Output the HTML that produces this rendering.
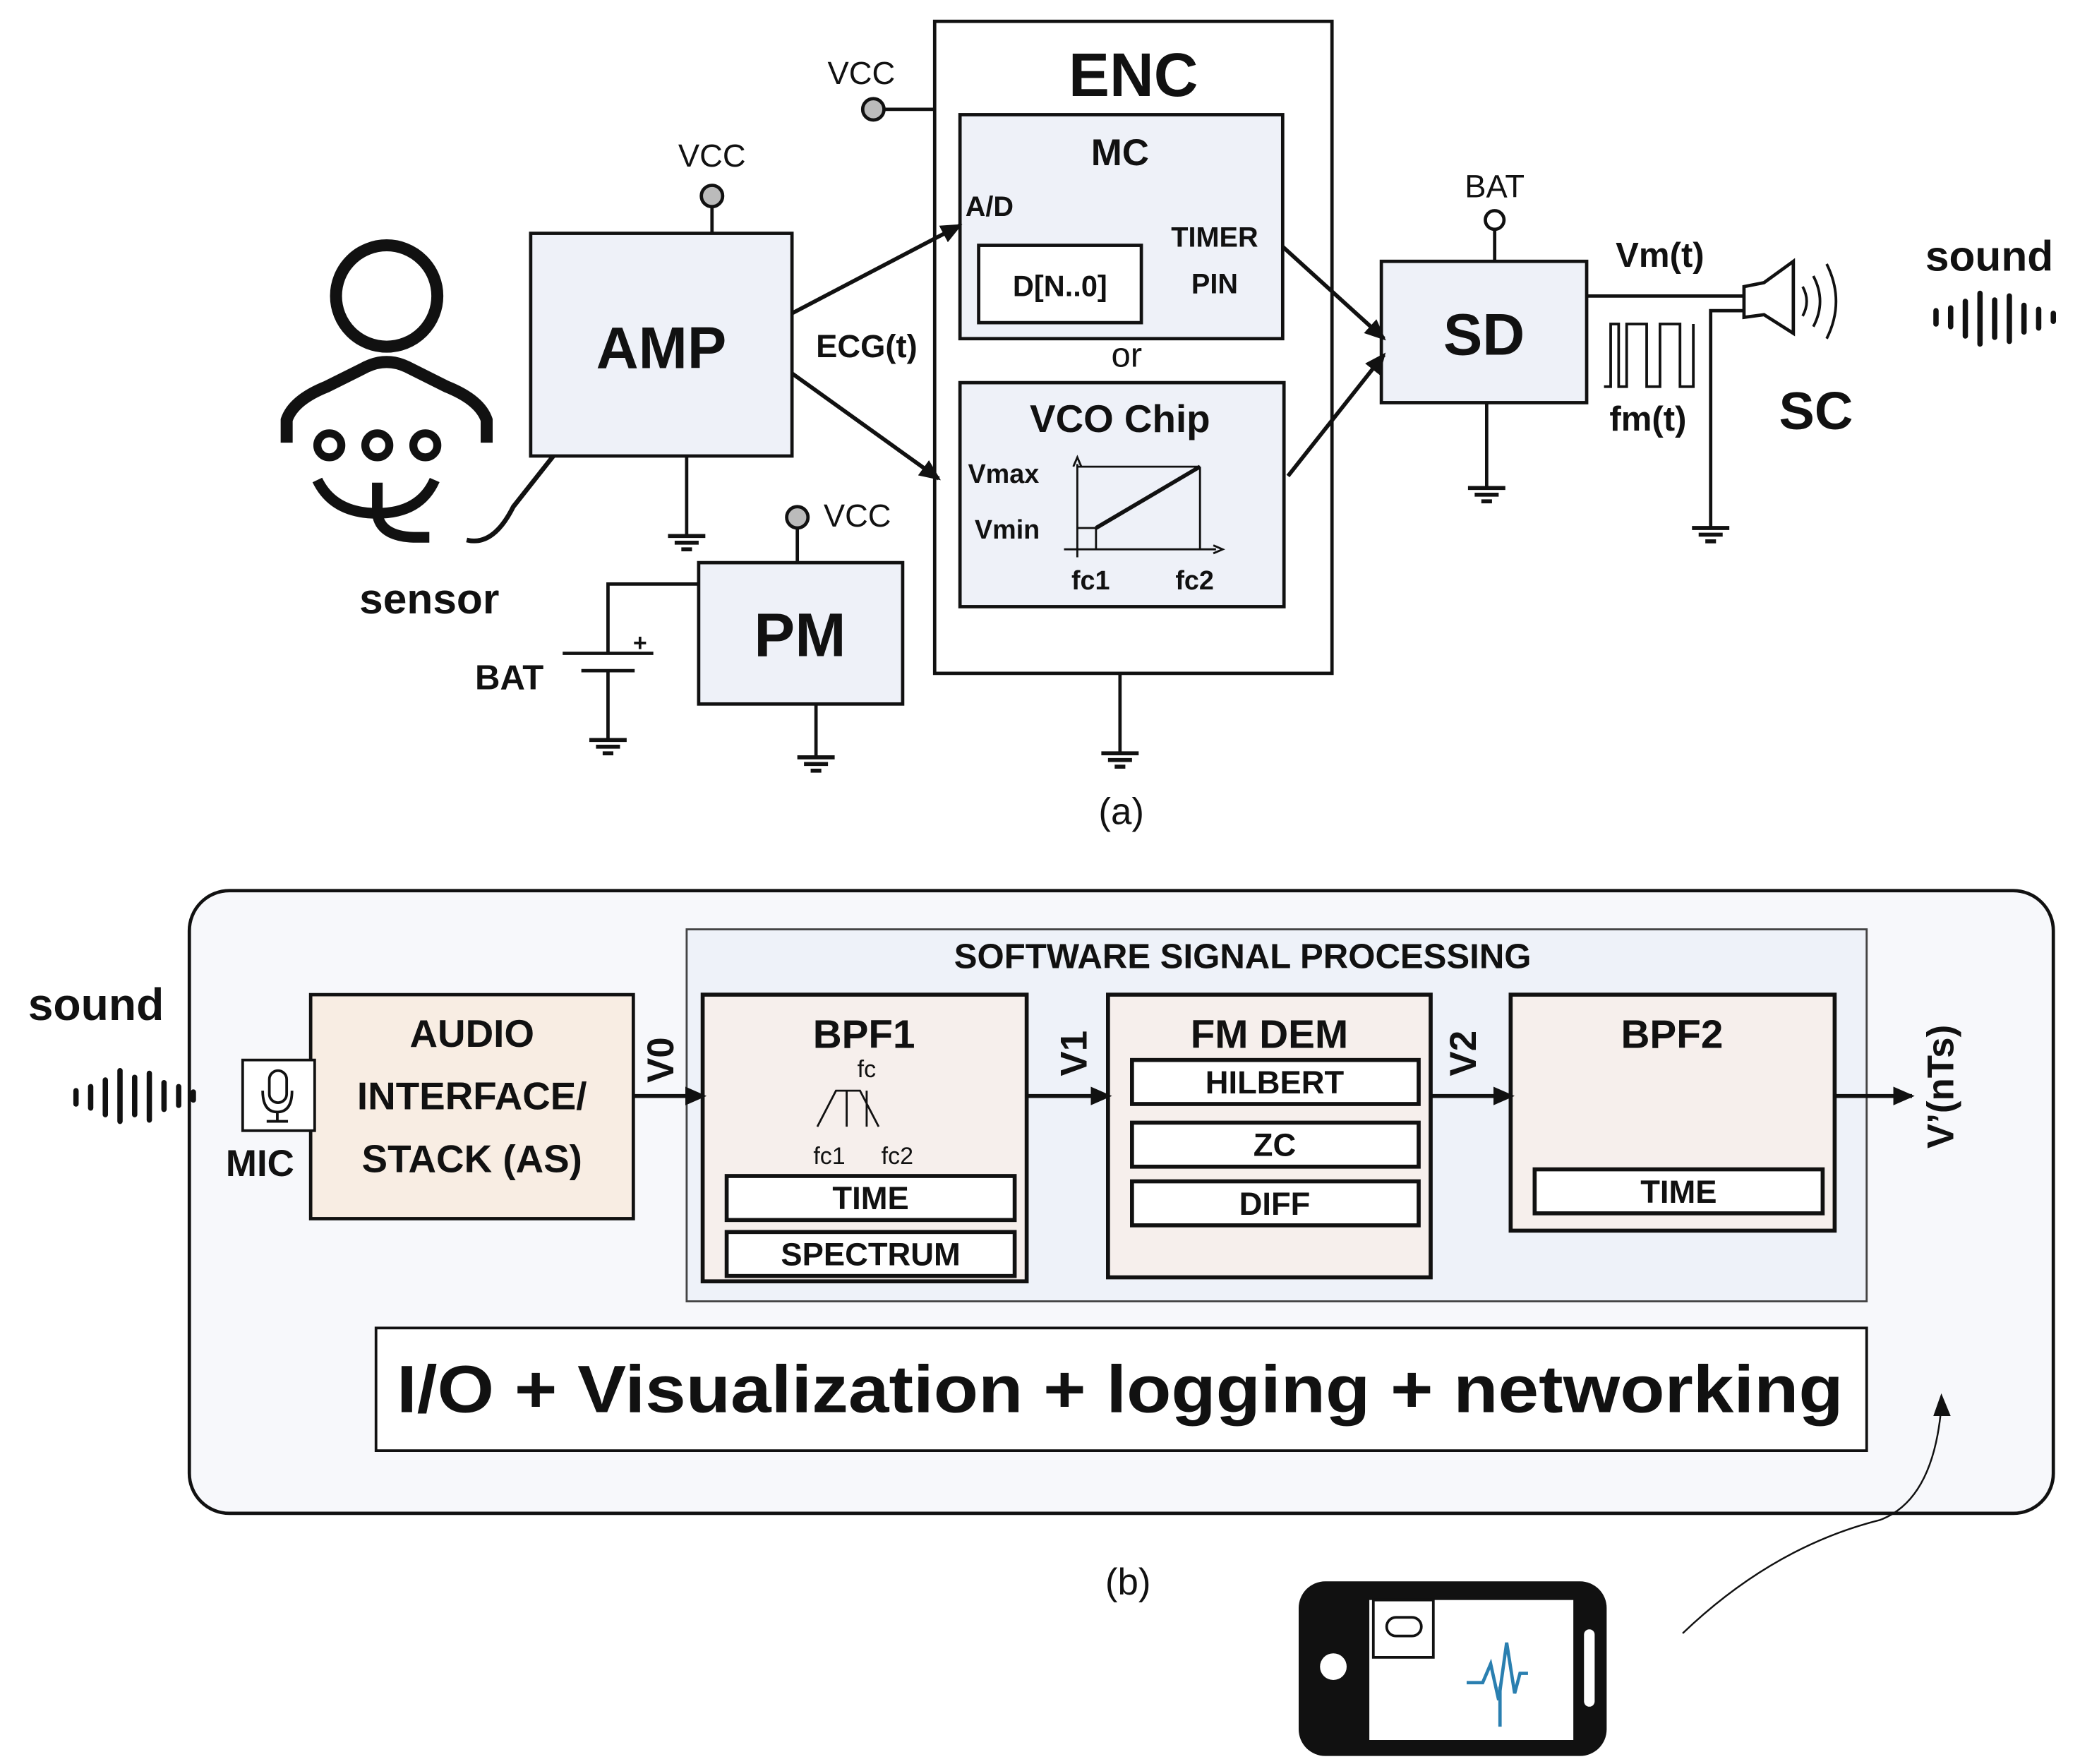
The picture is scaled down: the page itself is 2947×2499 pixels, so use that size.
<!DOCTYPE html>
<html><head><meta charset="utf-8"><style>
html,body{margin:0;padding:0;background:#fff}
svg{display:block}
text{font-family:"Liberation Sans",sans-serif;fill:#111}
.b{font-weight:bold}
</style></head><body>
<svg width="2947" height="2499" viewBox="0 0 1560 1323" preserveAspectRatio="none" xmlns="http://www.w3.org/2000/svg">
<defs>
<marker id="ar" markerWidth="16" markerHeight="14" refX="14" refY="7" orient="auto" markerUnits="userSpaceOnUse"><path d="M0,0 L16,7 L0,14 z" fill="#111"/></marker>
<g id="gnd"><line x1="-14" y1="0" x2="14" y2="0" stroke="#111" stroke-width="3"/><line x1="-9" y1="5" x2="9" y2="5" stroke="#111" stroke-width="3"/><line x1="-4" y1="10" x2="4" y2="10" stroke="#111" stroke-width="3"/></g>
</defs>
<g stroke="#111" stroke-width="2.5" fill="none">
<rect x="701" y="16" width="298" height="489" fill="#fff"/>
<rect x="720" y="86" width="242" height="168" fill="#eef1f8"/>
<rect x="734" y="184" width="122" height="58" fill="#fff"/>
<rect x="720" y="287" width="243" height="168" fill="#eef1f8"/>
<g stroke-width="1.5"><line x1="808" y1="418" x2="808" y2="348"/><line x1="798" y1="412" x2="912" y2="412"/><line x1="808" y1="350" x2="900" y2="350"/><line x1="900" y1="350" x2="900" y2="412"/><line x1="808" y1="396" x2="822" y2="396"/><line x1="822" y1="396" x2="822" y2="412"/></g>
<line x1="822" y1="396" x2="900" y2="350" stroke-width="3"/>
<path d="M805,350 L808,343 L811,350 M910,409 L917,412 L910,415" stroke-width="1.5"/>
<line x1="655" y1="82" x2="701" y2="82"/>
<circle cx="655" cy="82" r="8" fill="#bbb"/>
<line x1="840" y1="505" x2="840" y2="565"/>
<rect x="398" y="175" width="196" height="167" fill="#eef1f8"/>
<line x1="534" y1="155" x2="534" y2="175"/><circle cx="534" cy="147" r="8" fill="#bbb"/>
<line x1="515" y1="342" x2="515" y2="402"/>
<line x1="594" y1="235" x2="720" y2="169" marker-end="url(#ar)" stroke-width="3"/>
<line x1="594" y1="280" x2="704" y2="359" marker-end="url(#ar)" stroke-width="3"/>
<circle cx="290" cy="222" r="38" stroke-width="9"/>
<path d="M215,332 L215,315 Q220,300 245,290 L275,275 Q290,268 305,275 L335,290 Q360,300 365,315 L365,332" stroke-width="9"/>
<circle cx="247" cy="334" r="9" stroke-width="6"/><circle cx="283" cy="334" r="9" stroke-width="6"/><circle cx="319" cy="334" r="9" stroke-width="6"/>
<path d="M238,360 Q250,385 283,385 Q315,385 326,360" stroke-width="8"/>
<path d="M283,362 L283,385 Q285,402 310,403 L322,403" stroke-width="8"/>
<path d="M350,405 Q370,410 385,380 L415,342" stroke-width="3.5"/>
<rect x="524" y="422" width="153" height="106" fill="#eef1f8"/>
<line x1="598" y1="396" x2="598" y2="422"/><circle cx="598" cy="388" r="8" fill="#bbb"/>
<polyline points="524,438 456,438 456,490"/>
<line x1="422" y1="490" x2="490" y2="490"/><line x1="436" y1="503" x2="476" y2="503"/>
<line x1="456" y1="503" x2="456" y2="555"/>
<line x1="612" y1="528" x2="612" y2="568"/>
<rect x="1036" y="196" width="154" height="106" fill="#eef1f8"/>
<line x1="1121" y1="173" x2="1121" y2="196"/><circle cx="1121" cy="165" r="7" fill="#fff"/>
<line x1="1115" y1="302" x2="1115" y2="366"/>
<line x1="962" y1="185" x2="1038" y2="254" marker-end="url(#ar)" stroke-width="3"/>
<line x1="966" y1="357" x2="1038" y2="266" marker-end="url(#ar)" stroke-width="3"/>
<line x1="1190" y1="222" x2="1308" y2="222"/>
<polyline points="1308,233 1283,233 1283,396"/>
<path d="M1308,215 L1323,212 L1345,196 L1345,250 L1323,236 L1308,238 z" stroke-width="2.5"/>
<path d="M1352,215 Q1358,226 1352,237 M1360,207 Q1370,226 1360,245 M1370,198 Q1384,226 1370,254" stroke-width="2"/>
<polyline points="1203,290 1208,290 1208,243 1214,243 1214,290 1220,290 1220,243 1235,243 1235,290 1245,290 1245,243 1260,243 1260,290 1270,290 1270,243" stroke-width="2"/>
<g stroke-width="4" stroke-linecap="round"><line x1="1452" y1="233" x2="1452" y2="243"/><line x1="1463" y1="231" x2="1463" y2="245"/><line x1="1474" y1="226" x2="1474" y2="252"/><line x1="1485" y1="220" x2="1485" y2="258"/><line x1="1496" y1="225" x2="1496" y2="253"/><line x1="1507" y1="222" x2="1507" y2="256"/><line x1="1518" y1="229" x2="1518" y2="249"/><line x1="1529" y1="232" x2="1529" y2="246"/><line x1="1540" y1="235" x2="1540" y2="241"/></g>
</g>
<use href="#gnd" x="515" y="402"/><use href="#gnd" x="456" y="555"/><use href="#gnd" x="612" y="568"/><use href="#gnd" x="840" y="565"/><use href="#gnd" x="1115" y="366"/><use href="#gnd" x="1283" y="396"/>
<text x="850" y="72" font-size="46" text-anchor="middle" class="b">ENC</text>
<text x="840" y="124" font-size="28" text-anchor="middle" class="b">MC</text>
<text x="724" y="162" font-size="21" class="b">A/D</text>
<text x="795" y="222" font-size="22" text-anchor="middle" class="b">D[N..0]</text>
<text x="911" y="185" font-size="21" text-anchor="middle" class="b">TIMER</text>
<text x="911" y="220" font-size="21" text-anchor="middle" class="b">PIN</text>
<text x="845" y="275" font-size="26" text-anchor="middle">or</text>
<text x="840" y="324" font-size="29" text-anchor="middle" class="b">VCO Chip</text>
<text x="726" y="362" font-size="20" class="b">Vmax</text>
<text x="731" y="404" font-size="20" class="b">Vmin</text>
<text x="818" y="442" font-size="20" text-anchor="middle" class="b">fc1</text>
<text x="896" y="442" font-size="20" text-anchor="middle" class="b">fc2</text>
<text x="646" y="63" font-size="24" text-anchor="middle">VCC</text>
<text x="534" y="125" font-size="24" text-anchor="middle">VCC</text>
<text x="643" y="395" font-size="24" text-anchor="middle">VCC</text>
<text x="1121" y="148" font-size="24" text-anchor="middle">BAT</text>
<text x="496" y="276" font-size="44" text-anchor="middle" class="b">AMP</text>
<text x="650" y="268" font-size="24" text-anchor="middle" class="b">ECG(t)</text>
<text x="600" y="492" font-size="46" text-anchor="middle" class="b">PM</text>
<text x="322" y="460" font-size="32" text-anchor="middle" class="b">sensor</text>
<text x="382" y="517" font-size="26" text-anchor="middle" class="b">BAT</text>
<text x="480" y="488" font-size="18" text-anchor="middle" class="b">+</text>
<text x="1113" y="266" font-size="44" text-anchor="middle" class="b">SD</text>
<text x="1245" y="200" font-size="26" text-anchor="middle" class="b">Vm(t)</text>
<text x="1236" y="323" font-size="26" text-anchor="middle" class="b">fm(t)</text>
<text x="1362" y="322" font-size="40" text-anchor="middle" class="b">SC</text>
<text x="1492" y="203" font-size="32" text-anchor="middle" class="b">sound</text>
<text x="841" y="618" font-size="28" text-anchor="middle">(a)</text>
<g stroke="#111" stroke-width="2.5" fill="none">
<rect x="142" y="668" width="1398" height="467" rx="30" fill="#f7f8fb"/>
<rect x="515" y="697" width="885" height="279" fill="#eef2f9" stroke-width="1.5" stroke="#444"/>
<rect x="233" y="746" width="242" height="168" fill="#f8ede3"/>
<rect x="527" y="746" width="243" height="215" fill="#f6efec" stroke-width="3"/>
<rect x="545" y="882" width="216" height="33" fill="#fff" stroke-width="3"/>
<rect x="545" y="924" width="216" height="33" fill="#fff" stroke-width="3"/>
<rect x="831" y="746" width="242" height="212" fill="#f6efec" stroke-width="3"/>
<rect x="849" y="795" width="215" height="33" fill="#fff" stroke-width="3"/>
<rect x="849" y="842" width="215" height="33" fill="#fff" stroke-width="3"/>
<rect x="849" y="886" width="215" height="33" fill="#fff" stroke-width="3"/>
<rect x="1133" y="746" width="243" height="177" fill="#f6efec" stroke-width="3"/>
<rect x="1151" y="877" width="216" height="33" fill="#fff" stroke-width="3"/>
<rect x="282" y="996" width="1118" height="92" fill="#fff" stroke-width="2"/>
<path d="M613,845 L627,818 L645,818 L659,845 M635,818 L635,845 M650,818 L650,845" stroke-width="1.5"/>
<line x1="476" y1="822" x2="528" y2="822" marker-end="url(#ar)" stroke-width="3"/>
<line x1="770" y1="822" x2="832" y2="822" marker-end="url(#ar)" stroke-width="3"/>
<line x1="1073" y1="822" x2="1134" y2="822" marker-end="url(#ar)" stroke-width="3"/>
<line x1="1376" y1="822" x2="1434" y2="822" marker-end="url(#ar)" stroke-width="3"/>
<rect x="182" y="795" width="54" height="53" fill="#fff" stroke-width="2"/>
<rect x="202" y="803" width="13" height="24" rx="6.5" stroke-width="2"/>
<path d="M197,818 Q197,834 208,834 Q219,834 219,818 M208,834 L208,841 M200,841 L216,841" stroke-width="2"/>
<g stroke-width="4" stroke-linecap="round"><line x1="57" y1="818" x2="57" y2="828"/><line x1="68" y1="815" x2="68" y2="831"/><line x1="79" y1="810" x2="79" y2="836"/><line x1="90" y1="803" x2="90" y2="841"/><line x1="101" y1="808" x2="101" y2="836"/><line x1="112" y1="805" x2="112" y2="840"/><line x1="123" y1="812" x2="123" y2="832"/><line x1="134" y1="815" x2="134" y2="829"/><line x1="145" y1="819" x2="145" y2="825"/></g>
<path d="M1262,1225 Q1330,1160 1410,1140 Q1450,1125 1456,1055" stroke-width="1.3"/>
</g>
<path d="M1450,1062 L1456,1045 L1463,1062 z" fill="#111"/>
<rect x="974" y="1186" width="231" height="131" rx="20" fill="#111"/>
<rect x="1027" y="1200" width="153" height="105" fill="#fff"/>
<rect x="1030" y="1200" width="45" height="43" fill="#fff" stroke="#111" stroke-width="2"/>
<rect x="1040" y="1213" width="26" height="14" rx="7" fill="none" stroke="#111" stroke-width="2"/>
<circle cx="1000" cy="1250" r="10" fill="#fff"/>
<rect x="1188" y="1222" width="8" height="58" rx="4" fill="#fff"/>
<polyline points="1100,1262 1112,1262 1118,1248 1124,1275 1130,1232 1136,1270 1140,1255 1146,1255" fill="none" stroke="#2a7fb0" stroke-width="2.5"/>
<line x1="1125" y1="1265" x2="1125" y2="1295" stroke="#2a7fb0" stroke-width="2.5"/>
<text x="72" y="765" font-size="34" text-anchor="middle" class="b">sound</text>
<text x="195" y="882" font-size="28" text-anchor="middle" class="b">MIC</text>
<text x="354" y="785" font-size="29" text-anchor="middle" class="b">AUDIO</text>
<text x="354" y="832" font-size="29" text-anchor="middle" class="b">INTERFACE/</text>
<text x="354" y="879" font-size="29" text-anchor="middle" class="b">STACK (AS)</text>
<text x="932" y="726" font-size="26" text-anchor="middle" class="b">SOFTWARE SIGNAL PROCESSING</text>
<text x="648" y="786" font-size="30" text-anchor="middle" class="b">BPF1</text>
<text x="650" y="808" font-size="18" text-anchor="middle">fc</text>
<text x="622" y="873" font-size="18" text-anchor="middle">fc1</text>
<text x="673" y="873" font-size="18" text-anchor="middle">fc2</text>
<text x="653" y="907" font-size="24" text-anchor="middle" class="b">TIME</text>
<text x="653" y="949" font-size="24" text-anchor="middle" class="b">SPECTRUM</text>
<text x="952" y="786" font-size="30" text-anchor="middle" class="b">FM DEM</text>
<text x="956" y="820" font-size="24" text-anchor="middle" class="b">HILBERT</text>
<text x="956" y="867" font-size="24" text-anchor="middle" class="b">ZC</text>
<text x="956" y="911" font-size="24" text-anchor="middle" class="b">DIFF</text>
<text x="1254" y="786" font-size="30" text-anchor="middle" class="b">BPF2</text>
<text x="1259" y="902" font-size="24" text-anchor="middle" class="b">TIME</text>
<text transform="translate(505,795) rotate(-90)" font-size="28" text-anchor="middle" class="b">V0</text>
<text transform="translate(815,790) rotate(-90)" font-size="28" text-anchor="middle" class="b">V1</text>
<text transform="translate(1107,790) rotate(-90)" font-size="28" text-anchor="middle" class="b">V2</text>
<text transform="translate(1465,815) rotate(-90)" font-size="28" text-anchor="middle" class="b">V’(nTs)</text>
<text x="840" y="1059" font-size="50" text-anchor="middle" class="b" textLength="1085" lengthAdjust="spacingAndGlyphs">I/O + Visualization + logging + networking</text>
<text x="846" y="1196" font-size="28" text-anchor="middle">(b)</text>
</svg>
</body></html>
